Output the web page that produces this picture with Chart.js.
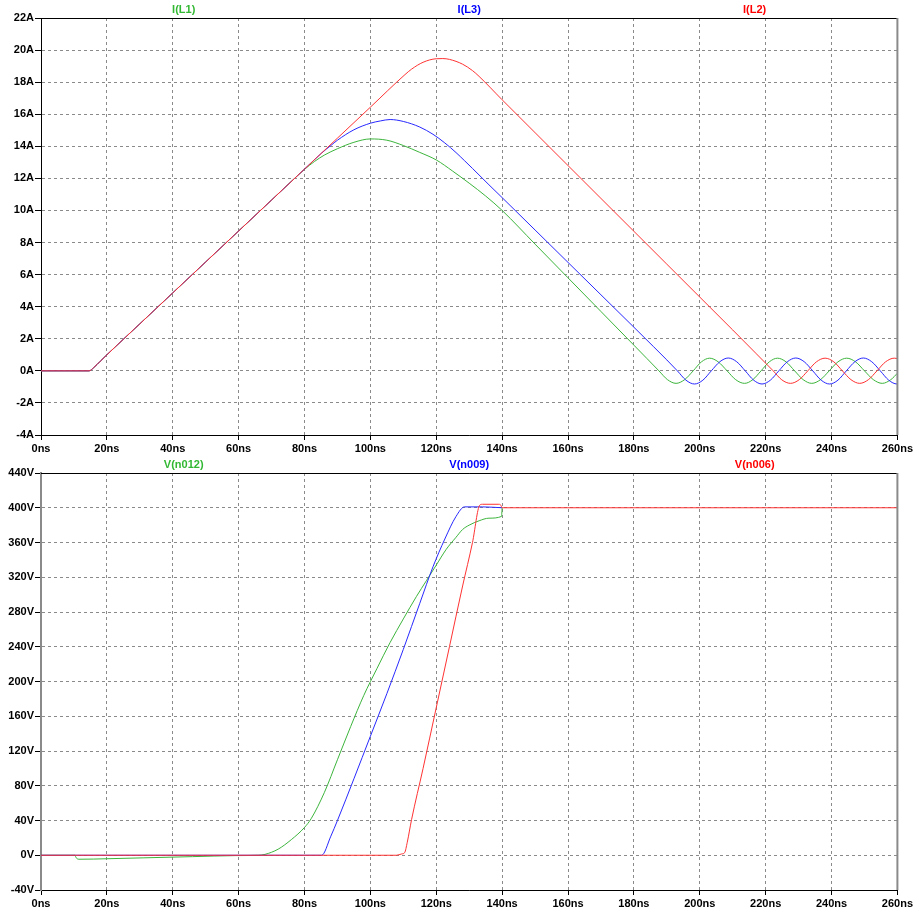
<!DOCTYPE html>
<html>
<head>
<meta charset="utf-8">
<script src="https://cdn.jsdelivr.net/npm/chart.js@4/dist/chart.umd.min.js"></script>
<style>
  html, body { margin: 0; padding: 0; background: #fff; }
  #wrap { position: relative; width: 915px; height: 910px; overflow: hidden; }
  canvas { position: absolute; left: 0; }
  #c1 { top: 0; }
  #c2 { top: 456px; }
</style>
</head>
<body>
<div id="wrap">
  <canvas id="c1" width="915" height="456"></canvas>
  <canvas id="c2" width="915" height="454"></canvas>
</div>
<script>
// ---------- tick labels ----------
const xTicksNs = [0, 20, 40, 60, 80, 100, 120, 140, 160, 180, 200, 220, 240, 260];
const currentTicks = [-4, -2, 0, 2, 4, 6, 8, 10, 12, 14, 16, 18, 20, 22];
const voltageTicks = [-40, 0, 40, 80, 120, 160, 200, 240, 280, 320, 360, 400, 440];

// ---------- Top pane: inductor currents (A) vs time (ns) ----------
const tL1 = [0, 14.6, 16, 18, 20, 30, 40, 50, 60, 70, 75, 80, 83, 86, 90, 95, 100, 105, 110, 115, 120, 125, 130, 135, 140, 150, 160, 170, 180, 184, 187.6, 190.2, 192.8,
  195.4, 198, 200.5, 203, 205.6, 208.3, 210.9, 213.6, 216.1, 218.6, 221.1, 223.6, 226.2, 228.8, 231.4, 234, 236.65, 239.3, 241.95, 244.6, 247.3, 250, 252.7, 255.4, 258, 260];
const iL1 = [0, 0, 0.2, 0.6, 1.0, 2.93, 4.86, 6.79, 8.72, 10.65, 11.62, 12.56, 13.05, 13.45, 13.85, 14.25, 14.46, 14.38, 14.05, 13.62, 13.15, 12.45, 11.7, 10.9, 10.0, 7.9, 5.8, 3.7, 1.6, 0.76, 0, -0.55, -0.78,
  -0.55, 0, 0.56, 0.79, 0.56, 0, -0.55, -0.78, -0.55, 0, 0.56, 0.79, 0.56, 0, -0.55, -0.78, -0.55, 0, 0.56, 0.79, 0.56, 0, -0.55, -0.78, -0.55, -0.15];

const tL3 = [0, 14.6, 16, 18, 20, 30, 40, 50, 60, 70, 80, 85.2, 88, 90, 95, 100, 103, 106, 110, 115, 119, 122.6, 126, 128.6, 131, 136, 140, 150, 160, 170, 180, 186, 190, 193.2,
  195.8, 198.4, 200.95, 203.5, 206.1, 208.65, 211.2, 213.8, 216.35, 218.9, 221.45, 224, 226.6, 229.15, 231.7, 234.3, 236.85, 239.4, 241.95, 244.5, 247.1, 249.65, 252.2, 254.8, 257.35, 259.9, 260];
const iL3 = [0, 0, 0.2, 0.6, 1.0, 2.93, 4.86, 6.79, 8.72, 10.65, 12.58, 13.58, 14.05, 14.38, 15.03, 15.44, 15.58, 15.67, 15.55, 15.2, 14.75, 14.21, 13.61, 13.1, 12.62, 11.6, 10.8, 8.78, 6.76, 4.74, 2.72, 1.5, 0.68, 0,
  -0.58, -0.82, -0.58, 0, 0.57, 0.8, 0.57, 0, -0.58, -0.82, -0.58, 0, 0.57, 0.8, 0.57, 0, -0.58, -0.82, -0.58, 0, 0.57, 0.8, 0.57, 0, -0.58, -0.82, -0.82];

const tL2 = [0, 14.6, 16, 18, 20, 30, 40, 50, 60, 70, 80, 90, 100, 110.5, 112.5, 116, 120, 122, 124, 128, 131, 133, 140, 150, 160, 170, 180, 190, 200, 210, 217, 222.3,
  224.9, 227.55, 230.2, 232.8, 235.4, 238.05, 240.7, 243.3, 245.9, 248.55, 251.2, 253.8, 256.4, 259.05, 260];
const iL2 = [0, 0, 0.2, 0.6, 1.0, 2.93, 4.86, 6.79, 8.72, 10.65, 12.58, 14.51, 16.44, 18.47, 18.81, 19.24, 19.46, 19.47, 19.42, 19.12, 18.72, 18.36, 16.9, 14.85, 12.8, 10.75, 8.7, 6.65, 4.6, 2.55, 1.1, 0,
  -0.56, -0.78, -0.55, 0, 0.56, 0.79, 0.56, 0, -0.55, -0.78, -0.55, 0, 0.56, 0.79, 0.77];

// ---------- Bottom pane: node voltages (V) vs time (ns) ----------
const tN012 = [0, 10.2, 10.8, 11.5, 16, 31, 46, 59, 66, 68, 72, 76, 80, 82, 86, 90, 94, 98, 102, 106, 110, 114, 117, 120, 123, 126, 128, 130, 133, 136, 139.8, 140];
const vN012 = [0, 0, -3.5, -4.6, -4.4, -3.0, -1.6, -0.4, 0, 1, 7, 18, 32, 42, 72, 110, 148, 184, 215, 245, 272, 298, 316, 334, 352, 366, 375, 380, 385, 388, 390, 400];

const tN009 = [0, 85.2, 88, 90, 95, 100, 105, 110, 115, 119, 122.6, 126, 128.6, 134, 140];
const vN009 = [0, 0, 22, 40, 88, 137, 186, 237, 290, 332, 364, 390, 401, 401, 400];

const tN006 = [0, 107.9, 109.5, 110.4, 111.2, 112.5, 116, 120, 124, 128, 131, 133.2, 134, 139, 139.6, 140, 180, 260];
const vN006 = [0, 0, 1.5, 3, 15, 41, 100, 170, 240, 310, 360, 403, 404, 404, 403, 400, 400, 400];

function pts(t, v) { return t.map((x, i) => ({ x: x, y: v[i] })); }

const GREEN = '#3cb43c';
const BLUE = '#2828ff';
const RED = '#ff3232';
const TITLE_FONT = 'bold 11px "Liberation Sans", Arial, sans-serif';

function frameAndTitles(titles, rightGrey) {
  return {
    id: 'frameTitles',
    afterDraw(chart) {
      const { ctx, chartArea: a } = chart;
      ctx.save();
      ctx.strokeStyle = '#000';
      ctx.lineWidth = 1;
      ctx.beginPath();
      ctx.moveTo(a.left, a.top + 0.5);
      ctx.lineTo(a.right, a.top + 0.5);
      ctx.stroke();
      ctx.strokeStyle = rightGrey;
      ctx.lineWidth = 2;
      ctx.beginPath();
      ctx.moveTo(a.right, a.top);
      ctx.lineTo(a.right, a.bottom);
      ctx.stroke();
      ctx.font = TITLE_FONT;
      ctx.textAlign = 'center';
      ctx.textBaseline = 'middle';
      const w = a.right - a.left;
      titles.forEach((tt, i) => {
        ctx.fillStyle = tt.color;
        ctx.fillText(tt.text, a.left + w * (2 * i + 1) / 6, a.top - 8.5);
      });
      ctx.restore();
    }
  };
}

function makeOptions(yMin, yMax, unit, yTicksArr, leftColor, leftWidth, topPad, xHeight) {
  const tickFont = { family: '"Liberation Sans", Arial, sans-serif', size: 11, weight: 'bold' };
  return {
    responsive: false,
    animation: false,
    devicePixelRatio: 1,
    layout: { padding: { top: topPad, right: 17, left: 0, bottom: 0 } },
    plugins: { legend: { display: false }, tooltip: { enabled: false } },
    elements: { point: { radius: 0 }, line: { borderWidth: 1, cubicInterpolationMode: 'monotone' } },
    scales: {
      x: {
        type: 'linear', min: 0, max: 260,
        afterBuildTicks: (s) => { s.ticks = xTicksNs.map(v => ({ value: v })); },
        afterFit: (s) => { s.height = xHeight; },
        ticks: { callback: (v) => v + 'ns', font: tickFont, color: '#000', maxRotation: 0, autoSkip: false, padding: 2 },
        grid: { color: '#8a8a8a', lineWidth: 1, tickColor: '#000', tickLength: 5, tickWidth: 1 },
        border: { display: true, color: '#000', width: 1, dash: [3, 3] }
      },
      y: {
        type: 'linear', min: yMin, max: yMax,
        afterBuildTicks: (s) => { s.ticks = yTicksArr.map(v => ({ value: v })); },
        afterFit: (s) => { s.width = 41; },
        ticks: { callback: (v) => v + unit, font: tickFont, color: '#000', autoSkip: false, padding: 1 },
        grid: { color: '#8a8a8a', lineWidth: 1, tickColor: '#000', tickLength: 6, tickWidth: 1 },
        border: { display: true, color: leftColor, width: leftWidth, dash: [3, 3] }
      }
    }
  };
}

new Chart(document.getElementById('c1'), {
  type: 'line',
  data: {
    datasets: [
      { label: 'I(L2)', data: pts(tL2, iL2), borderColor: RED },
      { label: 'I(L3)', data: pts(tL3, iL3), borderColor: BLUE },
      { label: 'I(L1)', data: pts(tL1, iL1), borderColor: GREEN }
    ]
  },
  options: makeOptions(-4, 22, 'A', currentTicks, '#000', 1, 18, 21),
  plugins: [frameAndTitles([
    { text: 'I(L1)', color: '#33b833' },
    { text: 'I(L3)', color: '#0000ff' },
    { text: 'I(L2)', color: '#ff0000' }
  ], '#8a8a8a')]
});

new Chart(document.getElementById('c2'), {
  type: 'line',
  data: {
    datasets: [
      { label: 'V(n006)', data: pts(tN006, vN006), borderColor: RED },
      { label: 'V(n009)', data: pts(tN009, vN009), borderColor: BLUE },
      { label: 'V(n012)', data: pts(tN012, vN012), borderColor: GREEN }
    ]
  },
  options: makeOptions(-40, 440, 'V', voltageTicks, '#8a8a8a', 2, 17, 20),
  plugins: [frameAndTitles([
    { text: 'V(n012)', color: '#33b833' },
    { text: 'V(n009)', color: '#0000ff' },
    { text: 'V(n006)', color: '#ff0000' }
  ], '#8a8a8a')]
});
</script>
</body>
</html>
